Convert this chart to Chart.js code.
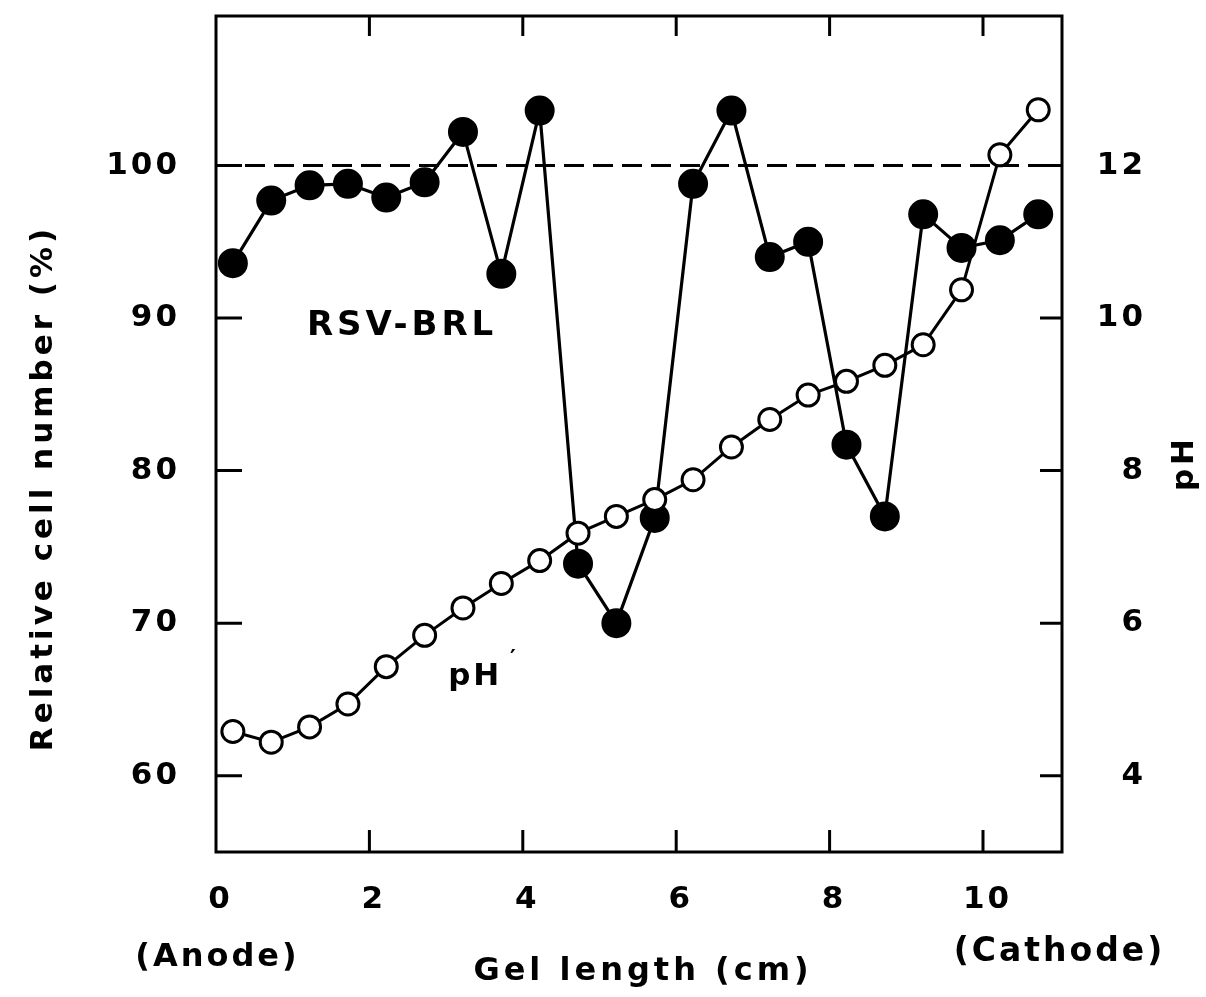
<!DOCTYPE html>
<html>
<head>
<meta charset="utf-8">
<script src="https://cdn.jsdelivr.net/npm/chart.js@4.4.0/dist/chart.umd.min.js"></script>
<style>
  html, body { margin: 0; padding: 0; background: #fff; }
  canvas { display: block; }
</style>
</head>
<body>
<canvas id="gel" width="1206" height="997"></canvas>
<script>
// posisi potongan gel (cm dari anoda)
var gelPos = [0.22, 0.72, 1.22, 1.72, 2.22, 2.72, 3.22, 3.72, 4.22, 4.72, 5.22,
              5.72, 6.22, 6.72, 7.22, 7.72, 8.22, 8.72, 9.22, 9.72, 10.22, 10.72];
// RSV-BRL, relative cell number (%)
var cellNumber = [93.6, 97.7, 98.7, 98.8, 97.9, 98.9, 102.2, 92.9, 103.6, 73.9, 70.0,
                  76.9, 98.8, 103.6, 94.0, 95.0, 81.7, 77.0, 96.8, 94.6, 95.1, 96.8];
// pH gradient
var phValue = [4.58, 4.44, 4.64, 4.94, 5.43, 5.84, 6.20, 6.52, 6.82, 7.18, 7.40,
               7.62, 7.88, 8.31, 8.67, 8.99, 9.17, 9.38, 9.65, 10.37, 12.14, 12.73];

var xTicks = [0, 2, 4, 6, 8, 10];
var leftTicks = [60, 70, 80, 90, 100];
var rightTicks = [4, 6, 8, 10, 12];

var FONT = 'DejaVu Sans';
var SPACING = 3;

function pts(ys) {
    return gelPos.map(function(x, i) { return { x: x, y: ys[i] }; });
}

function setTicks(list) {
    return function(scale) {
        scale.ticks = list.map(function(v) { return { value: v }; });
    };
}

function fixSize(prop, size) {
    return function(scale) {
        scale[prop] = size;
        scale.paddingTop = 0;
        scale.paddingBottom = 0;
        scale.paddingLeft = 0;
        scale.paddingRight = 0;
    };
}

function label(ctx, text, x, y, size, sp, rot, align) {
    ctx.save();
    ctx.font = 'bold ' + size + 'px "' + FONT + '"';
    ctx.letterSpacing = sp + 'px';
    ctx.fillStyle = '#000';
    ctx.textBaseline = 'middle';
    ctx.textAlign = align || 'center';
    ctx.translate(x, y);
    ctx.rotate(rot || 0);
    // geser karena spasi huruf di akhir teks
    ctx.fillText(text, align === 'right' ? sp : sp / 2, 0);
    ctx.restore();
}

var decor = {
    id: 'decor',
    beforeUpdate: function(chart) { chart.ctx.letterSpacing = SPACING + 'px'; },
    beforeDraw: function(chart) { chart.ctx.letterSpacing = SPACING + 'px'; },
    beforeDatasetsDraw: function(chart) {
        // garis putus-putus 100%
        var ctx = chart.ctx, a = chart.chartArea;
        var y = chart.scales.y.getPixelForValue(100);
        ctx.save();
        ctx.strokeStyle = '#000';
        ctx.lineWidth = 3;
        ctx.setLineDash([20, 9]);
        ctx.beginPath();
        ctx.moveTo(a.left, y);
        ctx.lineTo(a.right, y);
        ctx.stroke();
        ctx.restore();
    },
    afterDraw: function(chart) {
        var ctx = chart.ctx, a = chart.chartArea, s = chart.scales;
        ctx.save();
        ctx.strokeStyle = '#000';
        ctx.lineWidth = 3;
        ctx.strokeRect(a.left, a.top, a.right - a.left, a.bottom - a.top);
        ctx.beginPath();
        leftTicks.forEach(function(v) {
            var y = s.y.getPixelForValue(v);
            ctx.moveTo(a.left, y); ctx.lineTo(a.left + 26, y);
        });
        rightTicks.forEach(function(v) {
            var y = s.y2.getPixelForValue(v);
            ctx.moveTo(a.right, y); ctx.lineTo(a.right - 22, y);
        });
        xTicks.forEach(function(v) {
            if (v === 0) return;
            var x = s.x.getPixelForValue(v);
            ctx.moveTo(x, a.bottom); ctx.lineTo(x, a.bottom - 22);
            ctx.moveTo(x, a.top); ctx.lineTo(x, a.top + 20);
        });
        ctx.stroke();
        ctx.restore();

        // label sumbu kanan (rata kanan) dan sumbu x
        rightTicks.forEach(function(v) {
            label(ctx, String(v), 1143, s.y2.getPixelForValue(v), 31, SPACING, 0, 'right');
        });
        xTicks.forEach(function(v) {
            label(ctx, String(v), s.x.getPixelForValue(v) + 3, 900, 31, SPACING);
        });

        // judul sumbu dan keterangan
        label(ctx, 'Relative cell number (%)', 44, 490, 31, 4, -Math.PI / 2);
        label(ctx, 'pH', 1185, 465, 31, 4, -Math.PI / 2);
        label(ctx, 'Gel length (cm)', 641, 972, 32, 4);
        label(ctx, '(Anode)', s.x.getPixelForValue(0), 958, 32, 3);
        label(ctx, '(Cathode)', a.right - 4, 952, 33, 3);
        label(ctx, 'RSV-BRL', s.x.getPixelForValue(2.4), s.y.getPixelForValue(89.5), 34, 4);
        label(ctx, 'pH', s.x.getPixelForValue(3.36), s.y.getPixelForValue(66.5), 31, 3);
        label(ctx, '\u2032', s.x.getPixelForValue(3.87), s.y.getPixelForValue(67.6), 22, 0);
    }
};

var tickFont = { family: FONT, size: 31, weight: 'bold' };

var ctx = document.getElementById('gel').getContext('2d');
var myChart = new Chart(ctx, {
    type: 'line',
    data: {
        datasets: [{
            label: 'pH',
            data: pts(phValue),
            yAxisID: 'y2',
            borderColor: '#000',
            borderWidth: 3,
            pointRadius: 11,
            pointBorderWidth: 3,
            pointBackgroundColor: '#fff',
            pointBorderColor: '#000',
            tension: 0
        }, {
            label: 'RSV-BRL',
            data: pts(cellNumber),
            yAxisID: 'y',
            borderColor: '#000',
            borderWidth: 3.2,
            pointRadius: 14,
            pointBorderWidth: 2,
            pointBackgroundColor: '#000',
            pointBorderColor: '#000',
            tension: 0
        }]
    },
    options: {
        responsive: false,
        animation: false,
        layout: { padding: { top: 13, left: 0, right: 0, bottom: 0 } },
        plugins: {
            legend: { display: false },
            tooltip: { enabled: false }
        },
        scales: {
            x: {
                type: 'linear',
                position: 'bottom',
                min: 0,
                max: 11.03,
                grid: { display: false },
                border: { display: false },
                afterBuildTicks: setTicks(xTicks),
                afterFit: fixSize('height', 145),
                ticks: { display: false }
            },
            y: {
                type: 'linear',
                position: 'left',
                min: 55,
                max: 109.8,
                grid: { display: false },
                border: { display: false },
                afterBuildTicks: setTicks(leftTicks),
                afterFit: fixSize('width', 216),
                ticks: { font: tickFont, color: '#000', padding: 28 }
            },
            y2: {
                type: 'linear',
                position: 'right',
                min: 3,
                max: 13.96,
                grid: { display: false },
                border: { display: false },
                afterBuildTicks: setTicks(rightTicks),
                afterFit: fixSize('width', 144),
                ticks: { display: false }
            }
        }
    },
    plugins: [decor]
});
</script>
</body>
</html>
